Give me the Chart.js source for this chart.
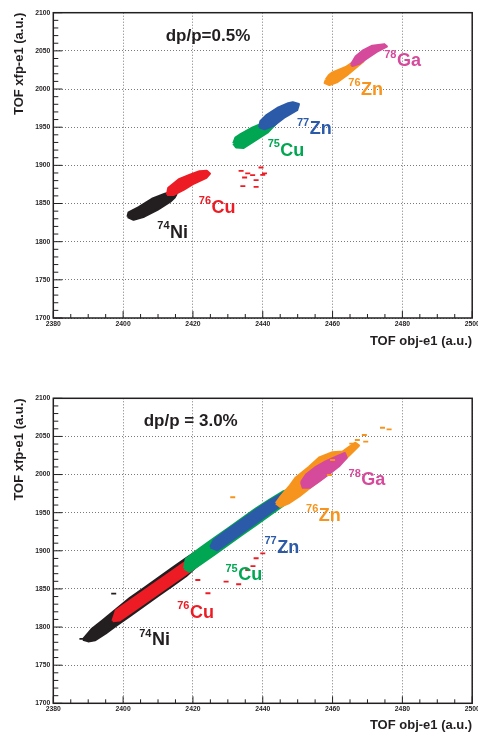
<!DOCTYPE html>
<html lang="en">
  <head>
    <meta charset="UTF-8" />
    <title>TOF PID</title>
    <script src="https://cdn.jsdelivr.net/npm/chart.js@4.4.1/dist/chart.umd.min.js"></script>
    <style>
      body { margin: 0; background: #fff; }
      canvas { position: absolute; left: 0; }
    </style>
  </head>
  <body>
    <canvas id="top" width="478" height="366" style="top:0"></canvas>
    <canvas id="bottom" width="478" height="367" style="top:366px"></canvas>
    <script>
      // axis ticks (major, labelled)
      const xTicks = [2380, 2400, 2420, 2440, 2460, 2480, 2500];
      const yTicks = [1700, 1750, 1800, 1850, 1900, 1950, 2000, 2050, 2100];

      // isotopes, same order in every panel
      const isoMass = ["74", "76", "75", "77", "76", "78"];
      const isoName = ["Ni", "Cu", "Cu", "Zn", "Zn", "Ga"];

      // label anchors (left / baseline), data coords
      const topLabelX = [2409.8, 2421.7, 2441.4, 2449.8, 2464.5, 2474.8];
      const topLabelY = [1805.4, 1837.7, 1912.5, 1940.5, 1992.5, 2030.1];
      const botLabelX = [2404.6, 2415.5, 2429.3, 2440.5, 2452.4, 2464.6];
      const botLabelY = [1776.1, 1812.3, 1861.7, 1897.5, 1939.1, 1985.9];
      const noteText = ["dp/p=0.5%", "dp/p = 3.0%"];
      const noteX = [2412.2, 2405.9];
      const noteY = [2063.3, 2064.1];

      // cluster outlines: [tof obj, tof xfp]
      // dp/p = 0.5%
      const top74Ni = [[2401.3,1832.5],[2401.6,1838.0],[2404.5,1845.0],[2408.3,1856.0],[2412.0,1862.5],[2414.3,1865.5],[2415.2,1862.0],[2414.8,1858.5],[2413.6,1853.0],[2409.8,1842.0],[2406.0,1833.0],[2403.0,1829.0]];
      const top76Cu = [[2412.6,1861.5],[2413.0,1870.5],[2416.0,1881.5],[2419.0,1887.0],[2421.9,1892.0],[2424.0,1892.5],[2424.8,1889.0],[2423.8,1884.0],[2420.3,1876.5],[2417.4,1868.5],[2414.5,1861.5]];
      const top75Cu = [[2431.6,1928.7],[2432.2,1936.0],[2433.8,1941.0],[2437.0,1949.0],[2440.0,1955.0],[2442.5,1958.5],[2443.8,1955.0],[2441.3,1943.0],[2437.4,1931.5],[2434.5,1923.0],[2432.4,1923.8]];
      const top77Zn = [[2439.0,1950.0],[2439.4,1958.0],[2441.2,1966.0],[2444.5,1975.6],[2447.3,1981.0],[2448.6,1982.5],[2450.3,1980.0],[2449.8,1972.5],[2446.0,1962.5],[2443.2,1952.5],[2440.5,1947.5]];
      const top76Zn = [[2458.1,2012.1],[2459.0,2018.0],[2460.0,2021.5],[2463.8,2028.5],[2465.7,2034.5],[2467.6,2037.5],[2468.8,2036.3],[2466.9,2029.0],[2464.0,2018.0],[2461.2,2009.0],[2459.1,2005.5],[2457.8,2008.0]];
      const top78Ga = [[2465.3,2031.8],[2466.7,2042.8],[2468.6,2049.9],[2471.4,2056.4],[2474.8,2058.5],[2475.5,2055.9],[2472.6,2049.0],[2469.7,2040.0],[2467.8,2033.8],[2465.7,2030.5]];
      const top76CuStray = [[2433.8,1892.8],[2435.7,1889.4],[2439.5,1897.2],[2437.1,1887.1],[2434.8,1884.1],[2438.1,1880.6],[2434.3,1872.7],[2438.1,1871.8],[2440.0,1887.5],[2440.5,1889.4]];

      // dp/p = 3.0%
      const bot74Ni = [[2388.5,1783.5],[2391,1797],[2394,1808],[2398,1823],[2402,1838],[2406,1851],[2410,1864],[2414,1877],[2418,1890],[2422,1902],[2426,1913],[2429,1917],[2430,1910],[2426,1896],[2422,1884],[2418,1867],[2414,1854],[2410,1841],[2406,1828],[2402,1815],[2398,1802],[2395,1792],[2392,1783],[2390,1781.5]];
      const bot76Cu = [[2397,1808],[2398,1821.7],[2402,1834.5],[2406,1847.3],[2410,1860.1],[2414,1872.9],[2418,1885.7],[2421,1895.3],[2422.5,1893],[2421.5,1881],[2418,1869.7],[2414,1856.9],[2410,1844.1],[2406,1831.3],[2402,1818.5],[2399,1808.9]];
      const bot75Cu = [[2417.5,1877],[2418,1889],[2422,1903],[2426,1916],[2430,1929],[2434,1942],[2438,1955],[2442,1967],[2446,1978],[2448,1981],[2448.5,1969],[2446,1960],[2442,1947],[2438,1934],[2434,1921],[2430,1908],[2426,1895],[2422,1882],[2419,1873]];
      const bot77Zn = [[2425,1905],[2426,1914],[2430,1927.5],[2434,1940.5],[2438,1953.5],[2442,1965.5],[2446,1976],[2447.8,1977],[2448,1970],[2446,1962.5],[2442,1949.5],[2438,1936.5],[2434,1923.5],[2430,1910.5],[2427,1901]];
      const bot76Zn = [[2443.8,1962.3],[2445,1970],[2447.6,1984.1],[2449.5,1996],[2453.3,2010],[2456.2,2022],[2460,2029],[2462.9,2030],[2464.8,2036],[2466.5,2041.5],[2467.5,2038],[2466,2031],[2463.5,2020],[2460,2006],[2457.1,1995],[2453.3,1982],[2450.5,1972],[2447.6,1963],[2445,1958]];
      const bot78Ga = [[2451,1990],[2452.5,2000],[2455,2009],[2458,2017],[2461,2023],[2463.5,2028],[2464,2022],[2462,2012],[2459,2001],[2456,1991],[2453.5,1983],[2451.5,1983]];
      const bot74NiStray = [[2397.3,1843.8],[2388.2,1784.5],[2391.5,1783.2]];
      const bot76CuStray = [[2429.5,1859.5],[2433.1,1856.1],[2435.7,1874.8],[2437.2,1880.0],[2438.1,1890.2],[2440.0,1896.7],[2424.3,1844.3],[2421.4,1861.7]];
      const bot76ZnStray = [[2474.3,2061.4],[2476.2,2059.3],[2469.1,2051.9],[2467.1,2045.3],[2469.5,2043.1],[2465.5,2040.5],[2464.8,2034.4],[2460.0,2019.1],[2431.4,1970.2],[2459.1,1999.4]];

      const isoColor = ["#231f20", "#ed1c24", "#00a651", "#2b5ba8", "#f7941d", "#d64a9c"];
      const ink = "#231f20";
      const FONT = '"Liberation Sans", Arial, sans-serif';

      const toXY = (p) => ({ x: p[0], y: p[1] });

      // ROOT style: inner ticks, frame, isotope labels
      const rootFrame = {
        id: "rootFrame",
        afterDatasetsDraw(chart, args, opts) {
          const { ctx, chartArea: a } = chart;
          const x = chart.scales.x;
          const y = chart.scales.y;
          ctx.save();
          ctx.textBaseline = "alphabetic";
          ctx.textAlign = "left";
          opts.labelX.forEach((lx, i) => {
            const px = x.getPixelForValue(lx);
            const py = y.getPixelForValue(opts.labelY[i]);
            ctx.fillStyle = isoColor[i];
            ctx.font = "bold 11px " + FONT;
            ctx.fillText(isoMass[i], px, py - 8.5);
            const w = ctx.measureText(isoMass[i]).width;
            ctx.font = "bold 18px " + FONT;
            ctx.fillText(isoName[i], px + w + 0.5, py);
          });
          ctx.fillStyle = ink;
          ctx.font = "bold 17px " + FONT;
          ctx.fillText(opts.note, x.getPixelForValue(opts.noteX), y.getPixelForValue(opts.noteY));

          ctx.strokeStyle = ink;
          ctx.lineWidth = 1;
          ctx.beginPath();
          x.ticks.forEach((t) => {
            const px = x.getPixelForValue(t.value);
            const len = xTicks.includes(t.value) ? 7 : 4;
            ctx.moveTo(px, a.bottom);
            ctx.lineTo(px, a.bottom - len);
          });
          y.ticks.forEach((t) => {
            const py = y.getPixelForValue(t.value);
            const len = yTicks.includes(t.value) ? 9 : 5;
            ctx.moveTo(a.left, py);
            ctx.lineTo(a.left + len, py);
          });
          ctx.stroke();
          ctx.lineWidth = 1.5;
          ctx.strokeRect(a.left, a.top, a.right - a.left, a.bottom - a.top);
          ctx.restore();
        },
      };

      function makePanel(id, shapes, strays, labelX, labelY, k, xAxisH, xTitlePad) {
        const datasets = [];
        shapes.forEach((pts, i) => {
          datasets.push({
            data: pts.concat([pts[0]]).map(toXY),
            borderColor: isoColor[i],
            backgroundColor: isoColor[i],
            borderWidth: 2.5,
            borderJoinStyle: "round",
            pointRadius: 0,
            tension: 0,
            fill: "shape",
            order: 10 - i,
          });
        });
        strays.forEach((s) => {
          datasets.push({
            data: s[1].map(toXY),
            showLine: false,
            pointStyle: "line",
            pointRadius: 2.5,
            pointBorderWidth: 1.8,
            pointBorderColor: isoColor[s[0]],
            borderColor: isoColor[s[0]],
            order: 0,
          });
        });

        const majorOr = (list) => (ctx) =>
          ctx.tick && list.includes(ctx.tick.value) ? "#7a7a7a" : "rgba(0,0,0,0)";

        return new Chart(document.getElementById(id), {
          type: "line",
          data: { datasets },
          plugins: [rootFrame],
          options: {
            responsive: false,
            animation: false,
            layout: { padding: { top: 12.7 + (id === "bottom" ? 19.6 : 0), right: 4.7, left: 0, bottom: 0 } },
            plugins: {
              legend: { display: false },
              tooltip: { enabled: false },
              rootFrame: { labelX, labelY, note: noteText[k], noteX: noteX[k], noteY: noteY[k] },
            },
            scales: {
              x: {
                type: "linear",
                min: 2380,
                max: 2500,
                afterBuildTicks: (s) => {
                  const t = [];
                  for (let v = 2380; v <= 2500; v += 5) t.push({ value: v });
                  s.ticks = t;
                },
                afterFit: (s) => {
                  s.height = xAxisH;
                  s.paddingLeft = 0;
                  s.paddingRight = 0;
                },
                ticks: {
                  autoSkip: false,
                  maxRotation: 0,
                  minRotation: 0,
                  padding: 2,
                  color: ink,
                  font: { family: FONT, size: 6.8, weight: "bold" },
                  callback: (v) => (xTicks.includes(v) ? String(v) : ""),
                },
                grid: { color: majorOr(xTicks), lineWidth: 1, drawTicks: false },
                border: { display: false, dash: [1, 2] },
                title: {
                  display: true,
                  text: "TOF obj-e1 (a.u.)",
                  align: "end",
                  color: ink,
                  font: { family: FONT, size: 13, weight: "bold" },
                  padding: { top: 0, bottom: xTitlePad },
                },
              },
              y: {
                type: "linear",
                min: 1700,
                max: 2100,
                afterBuildTicks: (s) => {
                  const t = [];
                  for (let v = 1700; v <= 2100; v += 10) t.push({ value: v });
                  s.ticks = t;
                },
                afterFit: (s) => {
                  s.width = 53.3;
                  s.paddingTop = 0;
                  s.paddingBottom = 0;
                },
                ticks: {
                  autoSkip: false,
                  padding: 3,
                  color: ink,
                  font: { family: FONT, size: 6.8, weight: "bold" },
                  callback: (v) => (yTicks.includes(v) ? String(v) : ""),
                },
                grid: { color: majorOr(yTicks), lineWidth: 1, drawTicks: false },
                border: { display: false, dash: [1, 2] },
                title: {
                  display: true,
                  text: "TOF xfp-e1 (a.u.)",
                  align: "end",
                  color: ink,
                  font: { family: FONT, size: 13, weight: "bold" },
                  padding: { top: 11.5, bottom: 0 },
                },
              },
            },
          },
        });
      }

      makePanel("top",
        [top74Ni, top76Cu, top75Cu, top77Zn, top76Zn, top78Ga],
        [[1, top76CuStray]],
        topLabelX, topLabelY, 0, 48, 17.2);

      makePanel("bottom",
        [bot74Ni, bot76Cu, bot75Cu, bot77Zn, bot76Zn, bot78Ga],
        [[0, bot74NiStray], [1, bot76CuStray], [4, bot76ZnStray]],
        botLabelX, botLabelY, 1, 29.7, 0);
    </script>
  </body>
</html>
